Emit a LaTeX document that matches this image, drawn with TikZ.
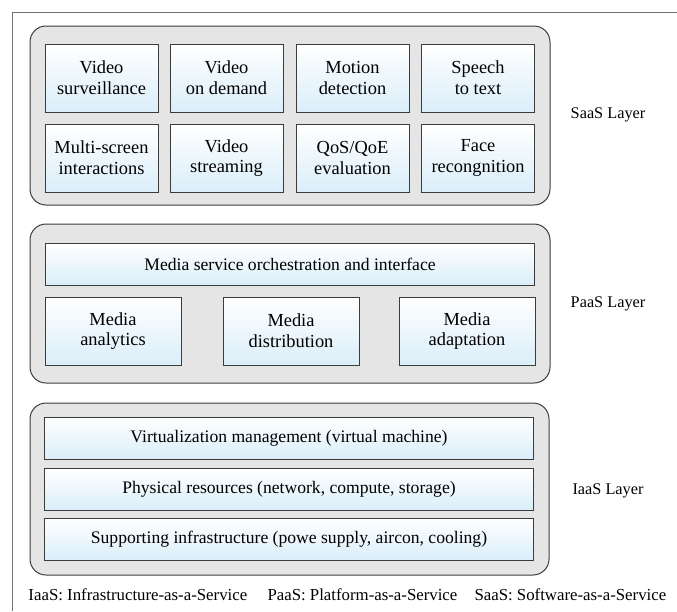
\documentclass[tikz,border=0pt]{standalone}
\usepackage{fontspec}
\setmainfont{Liberation Serif}

\definecolor{boxblue}{RGB}{218,238,249}
\definecolor{panelgray}{RGB}{229,229,229}
\definecolor{edgegray}{RGB}{60,60,60}

\tikzset{every picture/.style={line width=0.75pt}}
\tikzset{
  panel/.style={draw=edgegray, fill=panelgray, rounded corners=12pt},
  service/.style={draw=edgegray, line width=0.6pt, top color=white, bottom color=boxblue,
    align=center, inner sep=0pt, font=\fontsize{13.8}{15.5}\selectfont},
  small/.style={service, minimum width=84.75pt, minimum height=51pt},
  mid/.style={service, minimum width=102pt, minimum height=51pt},
  wide/.style={service, minimum width=367pt, minimum height=31.5pt, font=\fontsize{13.2}{15}\selectfont},
  layer/.style={anchor=center, inner sep=0.75pt, font=\fontsize{12.2}{14}\selectfont},
  legend/.style={anchor=base west, inner sep=0pt, font=\fontsize{12.6}{14}\selectfont}
}

\begin{document}
\begin{tikzpicture}[x=0.75pt,y=0.75pt,yscale=-1,xscale=1]
\useasboundingbox (0,0) rectangle (677,611);

% outer frame
\draw [color=black!55] (677,12) -- (12,12) -- (12,611) ;

% SaaS
\draw [panel] (30,26) rectangle (550,205) ;
\node [small] (vs) at (101.5,78) {Video\\surveillance};
\node [small] (vod) at (226.5,78) {Video\\on demand};
\node [small] (md) at (352.5,78) {Motion\\detection};
\node [small] (stt) at (478,78) {Speech\\to text};
\node [small] (msi) at (101.5,158) {Multi-screen\\interactions};
\node [small] (vst) at (226.5,158) {Video\\streaming};
\node [small] (qos) at (352.5,158) {QoS/QoE\\evaluation};
\node [small] (fr) at (478,158) {Face\\recongnition};

% PaaS
\draw [panel] (30,224) rectangle (550,383) ;
\node [wide] (orch) at (290,264) {Media service orchestration and interface};
\node [mid] (ana) at (113,331) {Media\\analytics};
\node [mid] (dist) at (291,331) {Media\\distribution};
\node [mid] (adap) at (467,331) {Media\\adaptation};

% IaaS
\draw [panel] (30,403) rectangle (549,575) ;
\node [wide] (virt) at (289,438) {Virtualization management (virtual machine)};
\node [wide] (phys) at (289,489) {Physical resources (network, compute, storage)};
\node [wide] (supp) at (289,539) {Supporting infrastructure (powe supply, aircon, cooling)};

% Text Node
\node [layer] (saas) at (608,115) {SaaS Layer};
\node [layer] (paas) at (608,304) {PaaS Layer};
\node [layer] (iaas) at (608,491) {IaaS Layer};

% legend
\node [legend] (liaas) at (28,600) {IaaS: Infrastructure-as-a-Service};
\node [legend] (lpaas) at (267,600) {PaaS: Platform-as-a-Service};
\node [legend] (lsaas) at (474,600) {SaaS: Software-as-a-Service};

\end{tikzpicture}
\end{document}
